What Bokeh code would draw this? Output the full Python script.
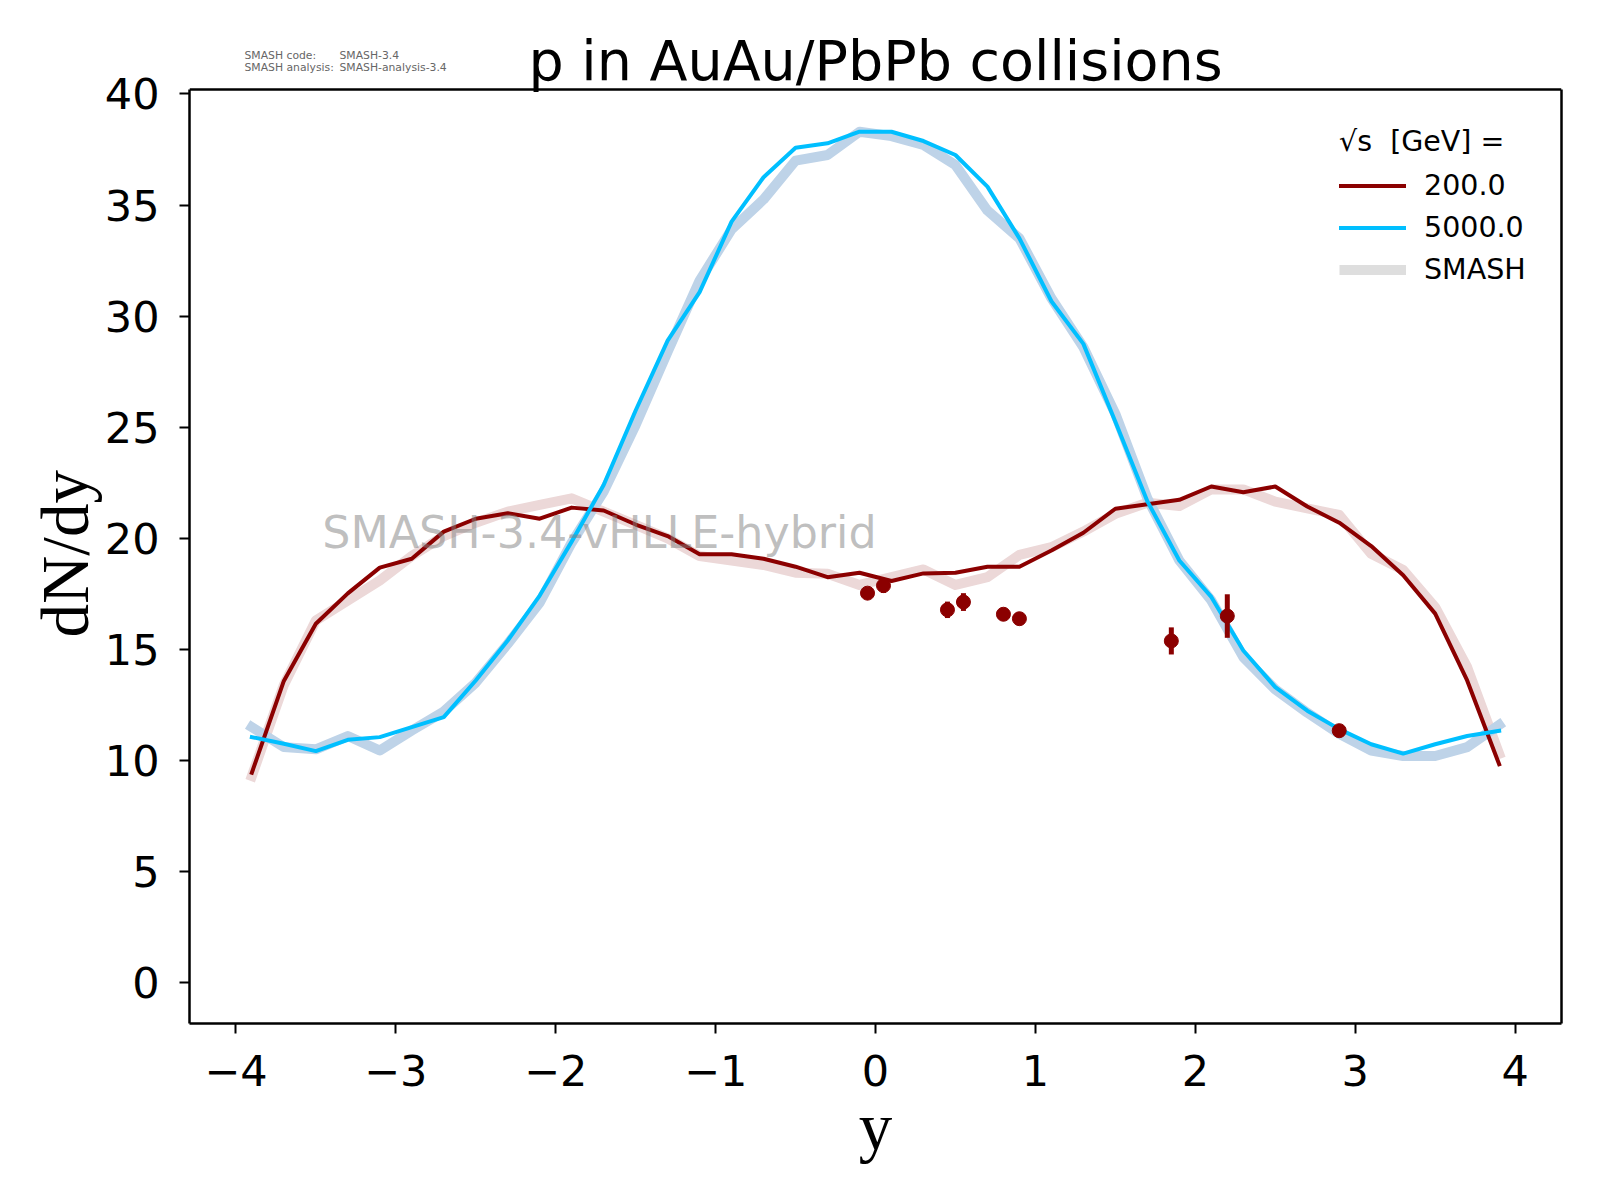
import numpy as np
from bokeh.plotting import figure
from bokeh.models import (Range1d, FixedTicker, Label, Legend, LegendItem,
                          LinearAxis, Span)
from bokeh.embed import file_html
from bokeh.resources import INLINE

# ---------------- data ----------------
rapidity = [-3.9, -3.7, -3.5, -3.3, -3.1, -2.9, -2.7, -2.5, -2.3, -2.1,
            -1.9, -1.7, -1.5, -1.3, -1.1, -0.9, -0.7, -0.5, -0.3, -0.1,
            0.1, 0.3, 0.5, 0.7, 0.9, 1.1, 1.3, 1.5, 1.7, 1.9,
            2.1, 2.3, 2.5, 2.7, 2.9, 3.1, 3.3, 3.5, 3.7, 3.9]

hybrid_200 = [9.45, 13.58, 16.15, 17.52, 18.68, 19.08, 20.30, 20.88, 21.13, 20.88,
              21.38, 21.25, 20.62, 20.10, 19.28, 19.28, 19.08, 18.72, 18.25, 18.45,
              18.08, 18.42, 18.45, 18.72, 18.72, 19.45, 20.25, 21.33, 21.53, 21.73,
              22.33, 22.07, 22.33, 21.43, 20.70, 19.65, 18.34, 16.61, 13.60, 9.83]

smash_200 = [9.30, 13.40, 16.30, 17.20, 18.10, 19.20, 20.10, 20.70, 21.20, 21.50,
             21.80, 21.20, 20.60, 20.00, 19.20, 19.00, 18.80, 18.45, 18.40, 17.90,
             18.25, 18.60, 17.90, 18.25, 19.25, 19.60, 20.30, 21.10, 21.60, 21.45,
             22.20, 22.20, 21.65, 21.35, 21.05, 19.30, 18.57, 16.90, 14.20, 10.30]

hybrid_5000 = [11.05, 10.75, 10.42, 10.93, 11.05, 11.50, 11.95, 13.60, 15.40, 17.42,
               19.85, 22.40, 25.75, 28.90, 31.08, 34.25, 36.25, 37.58, 37.78, 38.30,
               38.30, 37.88, 37.25, 35.83, 33.50, 30.67, 28.75, 25.25, 21.67, 19.00,
               17.36, 14.95, 13.30, 12.24, 11.41, 10.73, 10.31, 10.73, 11.10, 11.33]

smash_5000 = [11.50, 10.60, 10.50, 11.10, 10.45, 11.35, 12.20, 13.50, 15.25, 17.10,
              19.80, 22.10, 25.10, 28.40, 31.60, 33.90, 35.25, 37.00, 37.25, 38.30,
              38.10, 37.70, 36.80, 34.75, 33.50, 30.80, 28.60, 25.60, 21.80, 19.00,
              17.20, 14.65, 13.20, 12.15, 11.20, 10.45, 10.20, 10.20, 10.60, 11.60]

exp_y = [-0.05, 0.05, 0.45, 0.55, 0.80, 0.90, 1.85, 2.20, 2.90]
exp_dndy = [17.53, 17.87, 16.78, 17.13, 16.58, 16.38, 15.38, 16.50, 11.34]
exp_err = [0.12, 0.33, 0.37, 0.40, 0.12, 0.15, 0.61, 0.98, 0.12]

x_ticks = [-4, -3, -2, -1, 0, 1, 2, 3, 4]
y_ticks = [0, 5, 10, 15, 20, 25, 30, 35, 40]

energy_labels = ["200.0", "5000.0"]

# ---------------- styling ----------------
RED = "#8b0000"
BLUE = "#00bfff"
RED_BAND = "#ecd8d8"
BLUE_BAND = "#bed3e8"

X0, X1 = -4.29, 4.29
Y0, Y1 = -1.84, 40.2          # visible axes box
FW = 1372                      # box width in px
BOX_H = 934                    # box height in px
TOP = 89                       # room above the box (title area, inside frame)
unit = BOX_H / (Y1 - Y0)
YTOP = Y1 + TOP / unit

p = figure(frame_width=FW, frame_height=BOX_H + TOP,
           x_range=Range1d(X0, X1), y_range=Range1d(Y0, YTOP),
           output_backend="svg", toolbar_location=None,
           min_border_left=189, min_border_right=20,
           min_border_top=0, min_border_bottom=158)
p.background_fill_color = "white"
p.border_fill_color = "white"
p.xgrid.visible = False
p.ygrid.visible = False
p.outline_line_color = None

for ax in (p.xaxis[0], p.yaxis[0]):
    ax.axis_line_width = 2.5
    ax.major_tick_out = 10
    ax.major_tick_in = 0
    ax.major_tick_line_width = 2
    ax.minor_tick_line_color = None
    ax.major_label_text_font = "DejaVu Sans"
    ax.major_label_text_font_size = "43px"
    ax.major_label_text_color = "black"
    ax.axis_label_text_font = "Liberation Serif"
    ax.axis_label_text_font_size = "67px"
    ax.axis_label_text_font_style = "normal"
    ax.axis_label_text_color = "black"

p.xaxis.ticker = FixedTicker(ticks=x_ticks)
p.yaxis.ticker = FixedTicker(ticks=y_ticks)
p.yaxis.bounds = (Y0, Y1)
p.xaxis.major_label_overrides = {t: (str(t).replace("-", "\u2212")) for t in x_ticks}
p.xaxis.major_label_standoff = 21
p.yaxis.major_label_standoff = 20
p.xaxis.axis_label = "y"
# non-breaking spaces re-centre the label on the visible box (not the title area)
p.yaxis.axis_label = "dN/dy" + "\u00a0" * 5
p.xaxis.axis_label_standoff = 1
p.yaxis.axis_label_standoff = 0

# right and top spines of the box
right_ax = LinearAxis(bounds=(Y0, Y1), axis_line_width=2.5,
                      ticker=FixedTicker(ticks=[]),
                      major_tick_line_color=None, minor_tick_line_color=None)
p.add_layout(right_ax, "right")
p.add_layout(Span(location=Y1, dimension="width", line_color="black",
                  line_width=2.5))

# SMASH bands
p.line(rapidity, smash_200, line_width=10, color=RED_BAND,
       line_join="round", line_cap="square")
p.line(rapidity, smash_5000, line_width=10, color=BLUE_BAND,
       line_join="round", line_cap="square")

# hybrid lines
r200 = p.line(rapidity, hybrid_200, line_width=4, color=RED,
              line_join="round", line_cap="square")
r5000 = p.line(rapidity, hybrid_5000, line_width=4, color=BLUE,
               line_join="round", line_cap="square")

# experimental data
ey = np.array(exp_dndy)
ee = np.array(exp_err)
p.segment(x0=exp_y, y0=ey - ee, x1=exp_y, y1=ey + ee, line_width=5, color=RED)
p.scatter(exp_y, exp_dndy, size=14, color=RED)

# legend proxy for SMASH (one invisible NaN point)
rsmash = p.line([np.nan], [np.nan], line_width=10, color="#dedede")

legend = Legend(items=[LegendItem(label=energy_labels[0], renderers=[r200]),
                       LegendItem(label=energy_labels[1], renderers=[r5000]),
                       LegendItem(label="SMASH", renderers=[rsmash])],
                location=(1140, 724))
legend.title = "\u221as  [GeV] ="
legend.title_text_font = "DejaVu Sans"
legend.title_text_font_size = "28.5px"
legend.title_text_font_style = "normal"
legend.title_text_color = "black"
legend.title_standoff = 8
legend.label_text_font = "DejaVu Sans"
legend.label_text_font_size = "28.5px"
legend.label_text_color = "black"
legend.glyph_width = 67
legend.glyph_height = 39
legend.spacing = 3
legend.label_standoff = 18
legend.padding = 10
legend.margin = 0
legend.border_line_alpha = 0
legend.background_fill_alpha = 0
p.add_layout(legend)

# title
p.add_layout(Label(x=0, y=41.52, text="p in AuAu/PbPb collisions",
                   text_font="DejaVu Sans", text_font_size="55.5px",
                   text_align="center", text_baseline="alphabetic",
                   text_color="black"))

# watermark
p.add_layout(Label(x=-3.46, y=20.28, text="SMASH-3.4-vHLLE-hybrid",
                   text_font="DejaVu Sans", text_font_size="44.4px",
                   text_align="left", text_baseline="alphabetic",
                   text_color="gray", text_alpha=0.5))

# version info
for txt, xx, yy in [("SMASH code:", -3.946, 41.75),
                    ("SMASH-3.4", -3.352, 41.75),
                    ("SMASH analysis:", -3.946, 41.17),
                    ("SMASH-analysis-3.4", -3.352, 41.17)]:
    p.add_layout(Label(x=xx, y=yy, text=txt, text_font="DejaVu Sans",
                       text_font_size="10.8px", text_align="left",
                       text_baseline="middle", text_color="#666666"))

open("out.html", "w").write(file_html(p, INLINE))
